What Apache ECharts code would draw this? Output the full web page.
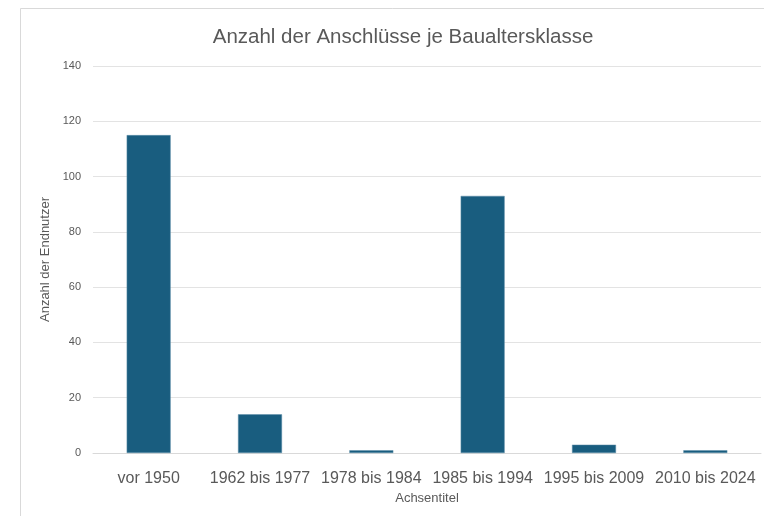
<!DOCTYPE html>
<html>
<head>
<meta charset="utf-8">
<script src="https://cdn.jsdelivr.net/npm/echarts@6/dist/echarts.min.js"></script>
<style>html,body{margin:0;padding:0;background:#fff;}#c{width:764px;height:521px;}</style>
</head>
<body>
<div id="c"></div>
<script>
const categories = ['vor 1950', '1962 bis 1977', '1978 bis 1984', '1985 bis 1994', '1995 bis 2009', '2010 bis 2024'];
const values = [115, 14, 1, 93, 3, 1];
const titleText = 'Anzahl der Anschlüsse je Baualtersklasse';
const yName = 'Anzahl der Endnutzer';
const xName = 'Achsentitel';

const chart = echarts.init(document.getElementById('c'), null, {renderer: 'canvas'});
const font = '"Liberation Sans", Arial, sans-serif';
chart.setOption({
  animation: false,
  backgroundColor: '#ffffff',
  graphic: [
    {type: 'line', shape: {x1: 20.5, y1: 8.5, x2: 764, y2: 8.5}, style: {stroke: '#d9d9d9', lineWidth: 1}},
    {type: 'line', shape: {x1: 20.5, y1: 8.5, x2: 20.5, y2: 516}, style: {stroke: '#d9d9d9', lineWidth: 1}}
  ],
  title: {
    text: titleText,
    left: 398, top: 22, textAlign: 'center',
    textStyle: {fontFamily: font, fontSize: 20.5, fontWeight: 'normal', color: '#595959'}
  },
  grid: {left: 93, right: 3, top: 66, bottom: 68, containLabel: false},
  xAxis: {
    type: 'category',
    data: categories,
    name: xName, nameLocation: 'middle', nameGap: 39,
    nameTextStyle: {fontFamily: font, fontSize: 13, color: '#595959', verticalAlign: 'top'},
    axisLine: {lineStyle: {color: '#d9d9d9'}},
    axisTick: {show: false},
    axisLabel: {fontFamily: font, fontSize: 16, color: '#595959', margin: 18, interval: 0}
  },
  yAxis: {
    type: 'value', min: 0, max: 140, interval: 20,
    name: yName, nameLocation: 'middle', nameGap: 36,
    nameTextStyle: {fontFamily: font, fontSize: 13, color: '#595959'},
    axisLine: {show: false},
    axisTick: {show: false},
    axisLabel: {fontFamily: font, fontSize: 11, color: '#595959', margin: 12},
    splitLine: {lineStyle: {color: '#e3e3e3'}}
  },
  series: [{
    type: 'bar',
    data: values,
    barWidth: '39.5%',
    itemStyle: {color: '#195d7f', borderColor: '#5f8ea8', borderWidth: 0.5}
  }]
});
</script>
</body>
</html>
